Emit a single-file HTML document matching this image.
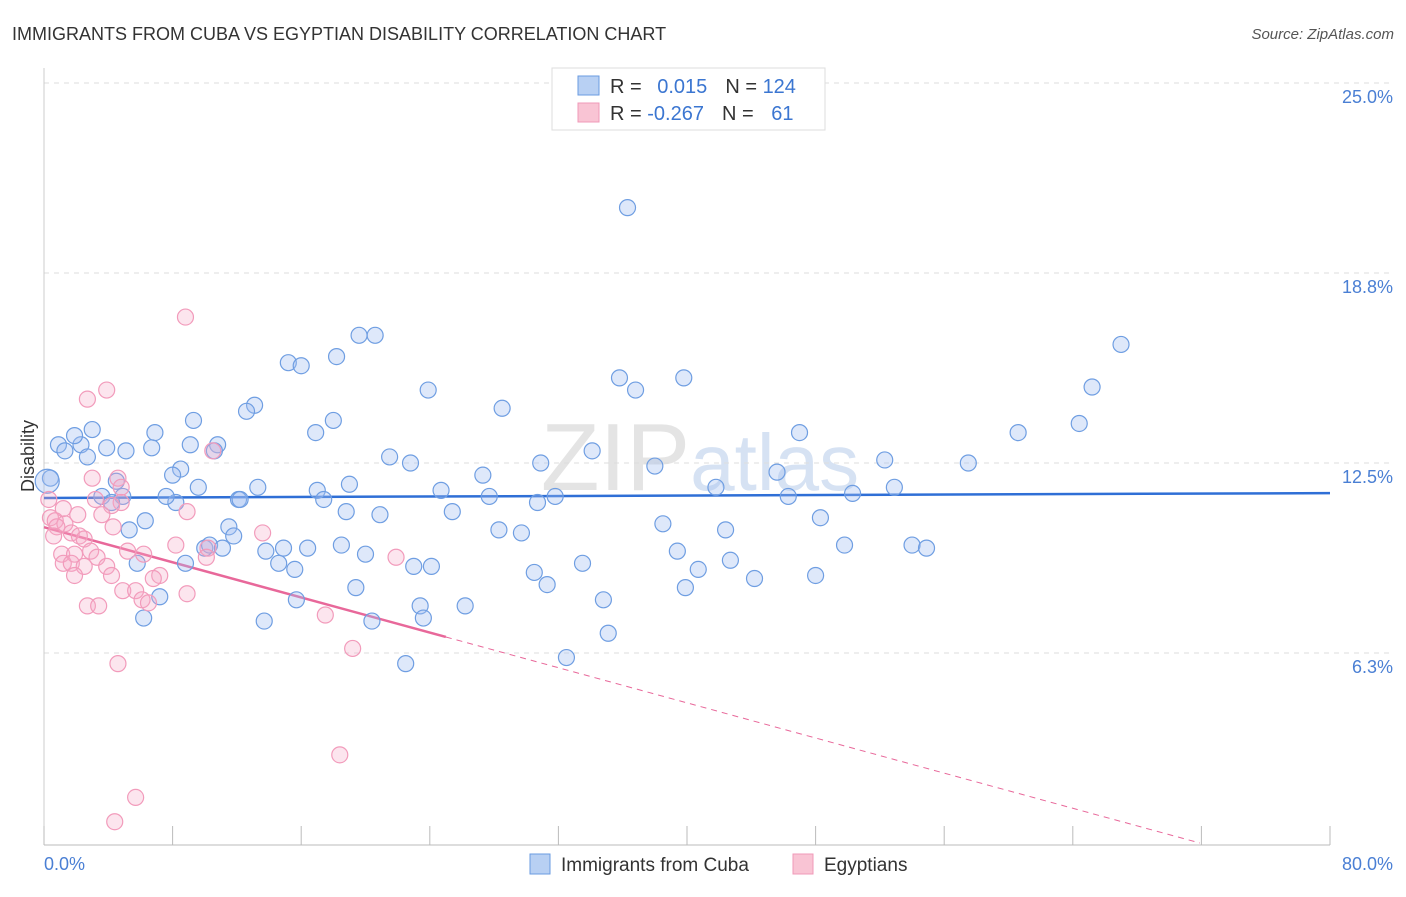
<!DOCTYPE html>
<html><head><meta charset="utf-8"><style>
body{margin:0;background:#fff;font-family:"Liberation Sans",sans-serif;}
svg text{font-family:"Liberation Sans",sans-serif;}
</style></head><body>
<svg id="chart" width="1406" height="892" xmlns="http://www.w3.org/2000/svg">
<text x="12" y="40" font-size="18" fill="#333">IMMIGRANTS FROM CUBA VS EGYPTIAN DISABILITY CORRELATION CHART</text>
<text x="1394" y="39" font-size="15" fill="#555" text-anchor="end" font-style="italic">Source: ZipAtlas.com</text>
<text x="700" y="490" font-size="96" fill="#e4e4e4" text-anchor="middle" font-family="Liberation Serif">ZIP<tspan fill="#d6e2f3" font-family="Liberation Sans" font-size="80">atlas</tspan></text>
<g id="grid"></g><g id="axes"></g><g id="lines"></g><g id="pts"></g>
<text transform="translate(34,456) rotate(-90)" font-size="18" fill="#333" text-anchor="middle">Disability</text>
<g>
<rect x="552" y="68" width="273" height="62" fill="#fff" stroke="#ddd"/>
<rect x="578" y="76" width="21" height="19" fill="#b8d0f3" stroke="#6a9be0"/>
<rect x="578" y="103" width="21" height="19" fill="#f9c4d4" stroke="#f09ab8"/>
<text x="610" y="93" font-size="20" fill="#333">R = <tspan fill="#3b76d1" dx="10">0.015</tspan><tspan dx="18" fill="#333">N = </tspan><tspan fill="#3b76d1">124</tspan></text>
<text x="610" y="120" font-size="20" fill="#333">R = <tspan fill="#3b76d1">-0.267</tspan><tspan dx="18" fill="#333">N = </tspan><tspan fill="#3b76d1" dx="12">61</tspan></text>
</g>
<g>
<rect x="530" y="854" width="20" height="20" fill="#b8d0f3" stroke="#6a9be0"/>
<text x="561" y="871" font-size="19" fill="#333">Immigrants from Cuba</text>
<rect x="793" y="854" width="20" height="20" fill="#f9c4d4" stroke="#f09ab8"/>
<text x="824" y="871" font-size="19" fill="#333">Egyptians</text>
</g>
</svg>
<script>
const yTicks=[25,18.75,12.5,6.25];
const yTickLabels=["25.0%","18.8%","12.5%","6.3%"];
const xTicks=[0,8,16,24,32,40,48,56,64,72,80];
const xTickLabels=["0.0%","80.0%"];
const cubaX=[36.3,67.0,65.2,64.4,60.6,57.5,52.3,52.9,50.3,47.0,45.6,46.3,48.3,49.8,48.0,54.0,54.9,39.8,35.8,36.8,38.0,41.8,38.5,42.4,39.4,42.7,40.7,44.2,39.9,34.1,30.9,31.8,30.7,29.7,30.5,31.3,33.5,34.8,35.1,32.5,28.5,27.3,27.7,28.3,24.7,25.4,23.9,21.5,22.8,20.9,20.0,23.0,24.1,19.4,23.4,26.2,23.6,20.4,22.5,19.6,20.6,18.2,18.0,16.9,19.0,17.0,17.4,18.8,18.5,16.4,15.6,15.7,15.2,16.0,13.1,12.6,13.3,12.1,12.2,13.8,14.6,14.9,13.7,9.3,9.1,10.8,10.6,8.5,8.0,9.6,8.2,7.6,11.5,11.8,10.0,10.3,11.1,8.8,7.2,6.2,6.9,6.7,5.1,3.9,2.3,3.0,1.9,0.9,1.3,2.7,0.4,0.2,4.5,3.6,4.9,4.2,6.3,5.3,5.8];
const cubaY=[20.9,16.4,15.0,13.8,13.5,12.5,12.6,11.7,11.5,13.5,12.2,11.4,10.7,9.8,8.8,9.8,9.7,15.3,15.3,14.9,12.4,11.7,10.5,10.3,9.6,9.3,9.0,8.7,8.4,12.9,12.5,11.4,11.2,10.2,8.9,8.5,9.2,8.0,6.9,6.1,14.3,12.1,11.4,10.3,11.6,10.9,14.9,12.7,12.5,10.8,9.5,9.1,9.1,8.4,7.8,7.8,7.4,7.3,5.9,16.7,16.7,16.0,13.9,13.5,11.8,11.6,11.3,10.9,9.8,9.7,9.0,8.0,15.8,15.7,14.4,14.2,11.7,11.3,11.3,9.6,9.2,9.7,7.3,13.9,13.1,13.1,12.9,12.3,12.1,11.7,11.2,11.4,10.4,10.1,9.7,9.8,9.7,9.2,8.1,7.4,13.5,13.0,12.9,13.0,13.1,13.6,13.4,13.1,12.9,12.7,12.0,11.9,11.9,11.4,11.4,11.2,10.6,10.3,9.2];
const egyX=[8.8,3.9,2.7,10.5,4.6,3.0,4.8,3.2,4.8,4.2,0.3,1.2,0.4,2.1,3.6,8.9,0.7,1.3,0.8,1.7,0.6,2.2,2.5,4.3,13.6,8.2,10.2,5.2,2.9,1.1,1.9,6.2,3.3,10.1,1.2,1.7,2.5,3.9,21.9,7.2,1.9,4.2,6.8,4.9,5.7,8.9,6.1,6.5,2.7,3.4,17.5,19.2,4.6,18.4,5.7,4.4];
const egyY=[17.3,14.9,14.6,12.9,12.0,12.0,11.7,11.3,11.2,11.1,11.3,11.0,10.7,10.8,10.8,10.9,10.6,10.5,10.4,10.2,10.1,10.1,10.0,10.4,10.2,9.8,9.7,9.6,9.6,9.5,9.5,9.5,9.4,9.4,9.2,9.2,9.1,9.1,9.4,8.8,8.8,8.8,8.7,8.3,8.3,8.2,8.0,7.9,7.8,7.8,7.5,6.4,5.9,2.9,1.5,0.7];
const cubaTrend=[11.35,11.51];
const egyTrend=[10.39,-0.1445];
const NS="http://www.w3.org/2000/svg";
const X0=44,X1=1330,Y0=843,PY=30.4;
const sx=v=>X0+(X1-X0)*v/80, sy=v=>Y0-v*PY;
function mk(t,a,p){const e=document.createElementNS(NS,t);for(const k in a)e.setAttribute(k,a[k]);p.appendChild(e);return e;}
const grid=document.getElementById('grid'),axes=document.getElementById('axes'),lines=document.getElementById('lines'),pts=document.getElementById('pts');
yTicks.forEach((v,i)=>{
 const l=mk('line',{x1:X0,x2:1392,y1:sy(v),y2:sy(v),stroke:'#ddd','stroke-dasharray':'5,5'},grid);
 
 
 const t=mk('text',{x:1393,y:sy(v)+20,'font-size':18,fill:'#4a7fd4','text-anchor':'end'},axes);
 t.textContent=yTickLabels[i];
 
 
});
const ax=mk('line',{x1:X0,x2:X1,y1:845,y2:845,stroke:'#bbb'},axes);


const ay=mk('line',{x1:X0,x2:X0,y1:68,y2:845,stroke:'#ccc'},axes);


xTicks.forEach(v=>{const t=mk('line',{x1:sx(v),x2:sx(v),y1:826,y2:845,stroke:'#bbb'},axes);
 
 });
const xl0=mk('text',{x:44,y:870,'font-size':18,fill:'#4a7fd4'},axes);xl0.textContent=xTickLabels[0];


const xl1=mk('text',{x:1393,y:870,'font-size':18,fill:'#4a7fd4','text-anchor':'end'},axes);xl1.textContent=xTickLabels[1];


cubaX.forEach((x,i)=>{const c=mk('circle',{cx:sx(x),cy:sy(cubaY[i]),r:i==cubaX.length-8?12:8,fill:'rgba(160,190,240,0.35)',stroke:'#6f9ee2','stroke-width':1.2},pts);
 
 });
egyX.forEach((x,i)=>{const c=mk('circle',{cx:sx(x),cy:sy(egyY[i]),r:8,fill:'rgba(245,170,200,0.3)',stroke:'#f29bbb','stroke-width':1.2},pts);
 
 });
const bl=mk('line',{x1:sx(0),y1:sy(cubaTrend[0]),x2:sx(80),y2:sy(cubaTrend[1]),stroke:'#2f6fd6','stroke-width':2.5},lines);


const xe=-egyTrend[0]/egyTrend[1];
const pl=mk('line',{x1:sx(0),y1:sy(egyTrend[0]),x2:sx(25),y2:sy(egyTrend[0]+egyTrend[1]*25),stroke:'#e8689a','stroke-width':2.5},lines);


const pd=mk('line',{x1:sx(25),y1:sy(egyTrend[0]+egyTrend[1]*25),x2:sx(xe),y2:sy(0),stroke:'#e8689a','stroke-width':1,'stroke-dasharray':'6,5'},lines);


</script>
</body></html>
